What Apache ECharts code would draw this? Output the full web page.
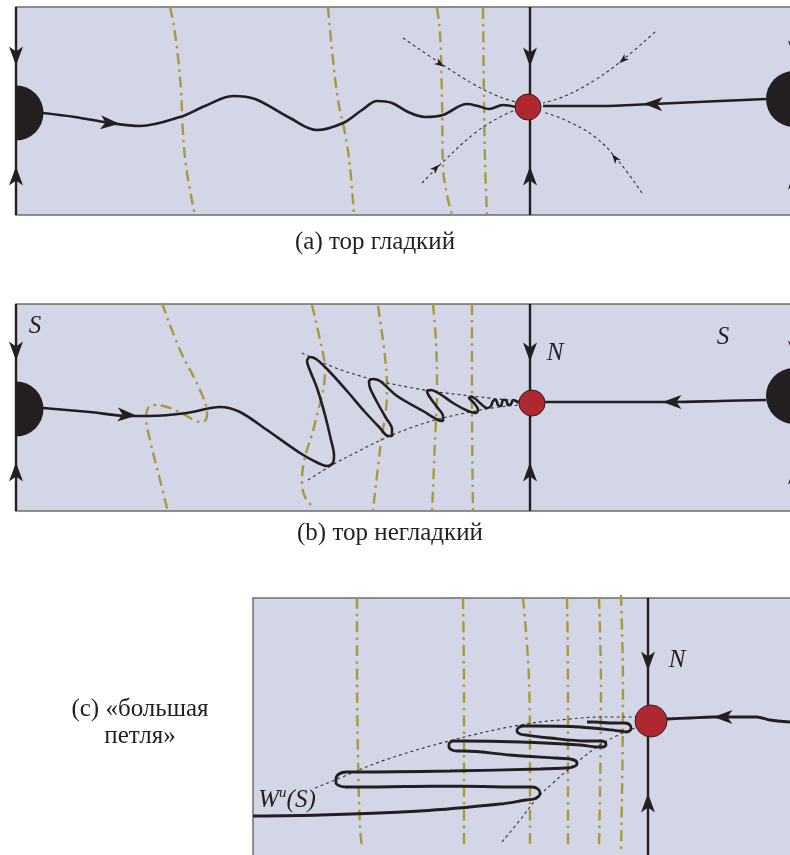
<!DOCTYPE html>
<html><head><meta charset="utf-8">
<script src="https://cdn.jsdelivr.net/npm/echarts@6/dist/echarts.min.js"></script>
<style>html,body{margin:0;padding:0;background:#fff}#c{width:790px;height:855px}</style>
</head><body><div id="c"></div>
<script>
// ---------- data (diagram coordinates) ----------
const panels = [[16,7,800,215],[16,304,800,511],[253,598,800,870]];

const straightLines = [
  [[16,7],[16,215]], [[530,7],[530,215]], [[795,7],[795,215]],
  [[16,304],[16,511]], [[530,304],[530,511]], [[795,304],[795,511]],
  [[648,598],[648,855]]
];

const trajA = [[43,113],[75,117],[110,123],[140,126],[180,117],[205,106],[233,96],[255,99],[290,118],[317,130],[343,123],[362,110],[377,101],[392,103],[408,112],[425,117],[443,115],[467,104],[478,106],[489,109],[503,105],[516,107]];
const inA = [[766,99],[720,101],[653,104],[600,106],[543,106]];

const trajB = [[43,408],[90,412],[127,416],[150,416],[187,413],[220,407],[240,412],[267,430],[300,453],[318,463],[327,466],[333,463],[334,455],[331,440],[325,415],[317,388],[309,368],[307,361],[310,357],[316,359],[328,370],[347,391],[365,412],[380,428],[388,436],[392,436],[392,429],[386,418],[377,402],[370,388],[369,381],[373,379],[380,381],[397,396],[423,411],[438,420],[443,421],[443,416],[437,407],[429,396],[427,391],[431,390],[440,394],[453,403],[468,411],[476,413],[478,410],[474,403],[469,398],[472,397],[480,403],[487,408],[491,406],[493,401],[496,400],[498,405],[501,406],[503,400],[506,400],[508,405],[511,404],[513,400],[516,401],[519,403]];
const inB = [[766,400],[720,401],[672,402],[600,402],[545,402]];

const trajC = [[253,816],[320,815],[420,811],[500,804],[526,800],
  [534,799],[539,796],[540,793],[538,789],[532,787],
  [515,787],[450,786],[360,787],[346,787],
  [340,786],[336,783],[336,779],[339,774],[346,772],
  [360,772],[450,771],[540,769],[566,768],
  [573,767],[577,764],[576,761],[570,759],
  [555,758],[510,755],[465,751],[457,751],
  [452,750],[449,747],[449,744],[453,741],[460,741],
  [520,742],[580,745],[597,747],
  [603,747],[606,745],[605,742],[600,741],
  [585,741],[550,738],[526,735],
  [520,734],[517,731],[518,728],[523,726],
  [535,726],[580,727],[620,731],
  [627,732],[631,729],[630,725],[625,723],
  [610,723],[595,722],[587,722]];
const inC = [[790,722],[770,720],[757,717],[735,717],[713,717],[690,718],[667,719]];

const oliveCurves = [
  [[170,7],[174,27],[178,57],[181,90],[183,133],[187,173],[195,215]],
  [[328,7],[332,50],[338,100],[345,133],[350,167],[354,215]],
  [[437,8],[440,33],[442,100],[443,167],[447,195],[452,215]],
  [[483,8],[484,100],[485,160],[487,215]],
  [[162,303],[180,350],[200,390],[207,414],[203,422],[196,421],[185,415],[167,407],[153,405],[148,408],[146,417],[150,440],[160,480],[168,512]],
  [[312,305],[320,340],[325,370],[315,423],[303,467],[302,483],[305,497],[313,507]],
  [[378,306],[385,357],[387,390],[380,450],[373,510]],
  [[433,304],[436,343],[437,390],[435,440],[433,490],[432,511]],
  [[472,304],[472,400],[473,511]],
  [[357,598],[357,657],[358,757],[360,827],[362,847]],
  [[463,598],[464,700],[464,848]],
  [[523,598],[529,680],[530,760],[530,847]],
  [[567,598],[568,690],[568,847]],
  [[599,598],[601,690],[599,847]],
  [[621,595],[623,690],[621,849]]
];

const dottedCurves = [
  [[403,38],[440,63],[475,85],[500,97],[516,102]],
  [[422,183],[445,160],[475,133],[500,117],[516,110]],
  [[655,32],[625,58],[595,80],[565,96],[543,103]],
  [[642,193],[620,163],[595,137],[565,120],[543,112]],
  [[302,353],[347,372],[413,388],[480,397],[520,401]],
  [[308,480],[347,457],[413,427],[480,410],[520,405]],
  [[315,788],[340,778],[385,760],[453,740],[520,725],[570,719],[603,717],[636,717]],
  [[502,842],[520,820],[538,797],[553,783],[570,768],[603,743],[635,728]]
];

// [x, y, rotation deg]
const bigArrows = [
  [16,56,180],[16,176,0],[530,57,180],[530,176,0],[795,50,180],[795,180,0],
  [110,123,-95],[653,104,88],
  [16,351,180],[16,472,0],[530,352,180],[530,472,0],[795,350,180],[795,475,0],
  [127,415,-93],[672,402,90],
  [648,661,180],[648,803,0],[723,717,90]
];
const smallArrows = [[440,64,-124],[436,168,-45],[623,60,131],[615,158,36]];

const saddlesAB = [[528,107],[532,403]];
const saddlesC = [[651,721]];
const discsLeft = [[16,113],[16,409]];
const discsRight = [[794,99],[794,396]];

const mathLabels = [[35,326,'S'],[555,353,'N'],[723,337,'S'],[677,660,'N'],[287,800,'W^u(S)']];
const captions = [[375,242,'(a) тор гладкий'],[390,533,'(b) тор негладкий'],[140,723,'(c) «большая\nпетля»']];

// ---------- styles ----------
const BG='#d2d6e7', BORDER='#6d6d72', INK='#231f20', OLIVE='#a89a3c', RED='#b0282f';
const ARROW='path://M10,0 L20,26 L10,19 L0,26 Z';

const series = [];
series.push({
  type:'custom', z:1, silent:true, clip:false, data:panels,
  renderItem:(p,api)=>{
    const a=api.coord([api.value(0),api.value(1)]), b=api.coord([api.value(2),api.value(3)]);
    return {type:'rect', shape:{x:a[0],y:a[1],width:b[0]-a[0],height:b[1]-a[1]}, style:{fill:BG,stroke:BORDER,lineWidth:1.5}};
  }
});
oliveCurves.forEach(d=>series.push({type:'line',z:2,data:d,smooth:0.4,symbol:'none',silent:true,clip:false,
  lineStyle:{color:OLIVE,width:2.4,type:[11,5,2.5,5]}}));
dottedCurves.forEach(d=>series.push({type:'line',z:3,data:d,smooth:0.4,symbol:'none',silent:true,clip:false,
  lineStyle:{color:'#333336',width:1.1,type:[3,3]}}));
straightLines.forEach(d=>series.push({type:'line',z:4,data:d,symbol:'none',silent:true,clip:false,
  lineStyle:{color:INK,width:2.4}}));
[trajA,inA].forEach(d=>series.push({type:'line',z:5,data:d,smooth:0.35,symbol:'none',silent:true,clip:false,
  lineStyle:{color:INK,width:2.6}}));
[trajB,inB].forEach(d=>series.push({type:'line',z:5,data:d,smooth:0.3,symbol:'none',silent:true,clip:false,
  lineStyle:{color:INK,width:2.6}}));
[trajC,inC].forEach(d=>series.push({type:'line',z:5,data:d,smooth:0.3,symbol:'none',silent:true,clip:false,
  lineStyle:{color:INK,width:2.8}}));
series.push({type:'scatter',z:6,clip:false,data:bigArrows,symbol:ARROW,symbolSize:[14,19],symbolRotate:v=>v[2],
  itemStyle:{color:INK,opacity:1},silent:true});
series.push({type:'scatter',z:6,clip:false,data:smallArrows,symbol:ARROW,symbolSize:[7,10],symbolRotate:v=>v[2],
  itemStyle:{color:INK,opacity:1},silent:true});
series.push({
  type:'custom', z:7, silent:true, clip:false, data:discsLeft,
  renderItem:(p,api)=>{
    const c=api.coord([api.value(0),api.value(1)]);
    return {type:'sector', shape:{cx:c[0],cy:c[1],r0:0,r:27.5,startAngle:-Math.PI/2,endAngle:Math.PI/2,clockwise:true}, style:{fill:INK}};
  }
});
series.push({type:'scatter',z:7,clip:false,data:discsRight,symbol:'circle',symbolSize:56,itemStyle:{color:INK,opacity:1},silent:true});
series.push({type:'scatter',z:8,clip:false,data:saddlesAB,symbol:'circle',symbolSize:26,itemStyle:{color:RED,borderColor:'#3b1a1c',borderWidth:1,opacity:1},silent:true});
series.push({type:'scatter',z:8,clip:false,data:saddlesC,symbol:'circle',symbolSize:32,itemStyle:{color:RED,borderColor:'#3b1a1c',borderWidth:1,opacity:1},silent:true});
series.push({type:'scatter',z:9,data:mathLabels,symbolSize:0,silent:true,itemStyle:{opacity:1},
  label:{show:true,position:'inside',
    formatter:p=>{const t=p.value[2]; if(t==='W^u(S)') return '{i|W}{s|u}{i|(S)}'; return '{i|'+t+'}';},
    rich:{i:{fontFamily:'Liberation Serif',fontStyle:'italic',fontSize:25,color:INK},
          s:{fontFamily:'Liberation Serif',fontStyle:'italic',fontSize:15,color:INK,verticalAlign:'top',padding:[0,0,14,0]}}}});
series.push({type:'scatter',z:9,data:captions,symbolSize:0,silent:true,itemStyle:{opacity:1},
  label:{show:true,position:'inside',formatter:p=>p.value[2],fontFamily:'Liberation Serif',fontSize:25,lineHeight:27,color:INK,align:'center'}});

const chart = echarts.init(document.getElementById('c'),null,{renderer:'canvas'});
chart.setOption({
  animation:false,
  grid:{left:0,right:0,top:0,bottom:0},
  xAxis:{type:'value',min:0,max:790,show:false},
  yAxis:{type:'value',min:0,max:855,inverse:true,show:false},
  series:series
});
</script></body></html>
